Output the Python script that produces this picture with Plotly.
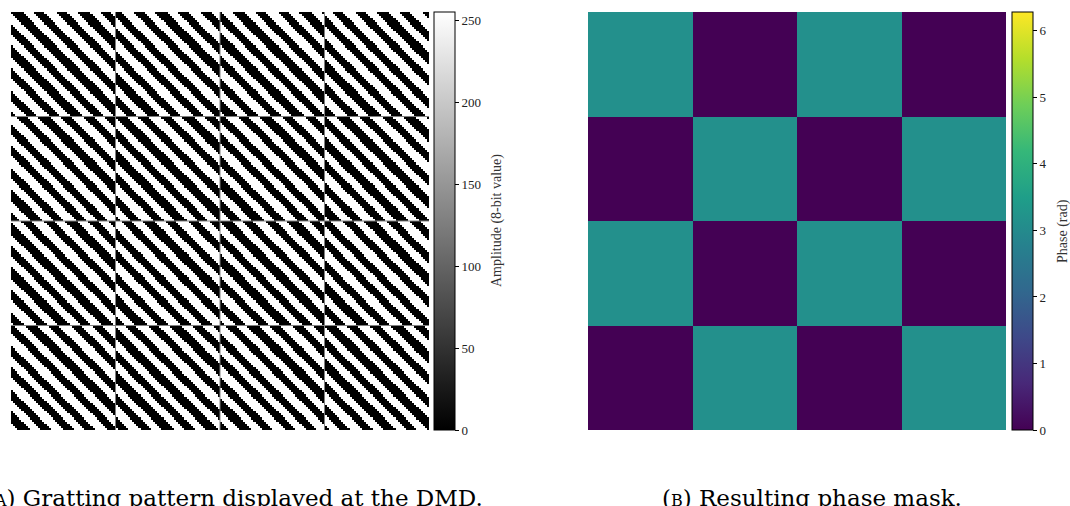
import numpy as np
import plotly.graph_objects as go

# ---- data ----
phase_mask = [
    [np.pi, 0.0, np.pi, 0.0],
    [0.0, np.pi, 0.0, np.pi],
    [np.pi, 0.0, np.pi, 0.0],
    [0.0, np.pi, 0.0, np.pi],
]
cells_per_block = 50          # DMD pixels per super-pixel
grating_period = 10.6         # grating period in DMD pixels
grating_offset = 0.5          # base phase offset (fraction of period)
amp_ticks = [0, 50, 100, 150, 200, 250]
phase_ticks = [0, 1, 2, 3, 4, 5, 6]

# ---- build grating from phase mask ----
pm = np.array(phase_mask)
nb = pm.shape[0]
N = nb * cells_per_block
rr, cc = np.mgrid[0:N, 0:N]
block_phase = pm[rr // cells_per_block, cc // cells_per_block]
frac = np.mod((cc - rr) / grating_period + block_phase / (2 * np.pi) + grating_offset, 1.0)
grating = np.where(frac < 0.5, 0, 255)

W, H = 1070, 506
def px(x):
    return x / W
def py(y):
    return 1 - y / H

font_tick = dict(family="Liberation Serif", size=13, color="#222")
font_title = dict(family="Liberation Serif", size=14, color="#333")

fig = go.Figure()
fig.add_trace(go.Heatmap(
    z=grating, xaxis="x", yaxis="y",
    colorscale=[[0, "black"], [1, "white"]], zmin=0, zmax=255,
    colorbar=dict(
        x=px(434), xanchor="left", xpad=0, y=py(221), yanchor="middle", ypad=0,
        len=418, lenmode="pixels", thickness=21, thicknessmode="pixels",
        outlinewidth=1, outlinecolor="black",
        tickvals=amp_ticks, ticks="outside", ticklen=4, tickcolor="black",
        tickfont=font_tick,
    ),
    hoverinfo="skip",
))
fig.add_trace(go.Heatmap(
    z=phase_mask, xaxis="x2", yaxis="y2",
    colorscale="Viridis", zmin=0, zmax=2 * np.pi,
    colorbar=dict(
        x=px(1012), xanchor="left", xpad=0, y=py(221), yanchor="middle", ypad=0,
        len=418, lenmode="pixels", thickness=21, thicknessmode="pixels",
        outlinewidth=1, outlinecolor="black",
        tickvals=phase_ticks, ticks="outside", ticklen=4, tickcolor="black",
        tickfont=font_tick,
    ),
    hoverinfo="skip",
))

ax = dict(visible=False, showgrid=False, zeroline=False)
fig.update_layout(
    width=W, height=H, margin=dict(l=0, r=0, t=0, b=0, autoexpand=False),
    paper_bgcolor="white", plot_bgcolor="white",
    xaxis=dict(domain=[px(11), px(429)], range=[-0.5, N - 0.5], **ax),
    yaxis=dict(domain=[py(430), py(12)], range=[N - 0.5, -0.5], **ax),
    xaxis2=dict(domain=[px(588), px(1006)], range=[-0.5, nb - 0.5], **ax),
    yaxis2=dict(domain=[py(430), py(12)], range=[nb - 0.5, -0.5], **ax),
    showlegend=False,
)

# block boundary lines in the grating
for k in range(1, nb):
    b = k * cells_per_block - 0.5
    fig.add_shape(type="line", xref="x", yref="y", x0=b, x1=b, y0=-0.5, y1=N - 0.5,
                  line=dict(color="rgb(128,128,128)", width=1), layer="above")
    fig.add_shape(type="line", xref="x", yref="y", y0=b, y1=b, x0=-0.5, x1=N - 0.5,
                  line=dict(color="rgb(128,128,128)", width=1), layer="above")

# colorbar titles
fig.add_annotation(text="Amplitude (8-bit value)", textangle=-90, xref="paper", yref="paper",
                   x=px(497), y=py(221), xanchor="center", yanchor="middle",
                   showarrow=False, font=font_title)
fig.add_annotation(text="Phase (rad)", textangle=-90, xref="paper", yref="paper",
                   x=px(1063), y=py(231), xanchor="center", yanchor="middle",
                   showarrow=False, font=font_title)

cap_font = dict(family="DejaVu Serif", size=23, color="black")
fig.add_annotation(
    text="(<span style='font-size:16px'>A</span>) Gratting pattern displayed at the DMD.",
    xref="paper", yref="paper", x=px(234), y=py(483), xanchor="center", yanchor="top",
    showarrow=False, font=cap_font,
)
fig.add_annotation(
    text="(<span style='font-size:16px'>B</span>) Resulting phase mask.",
    xref="paper", yref="paper", x=px(812), y=py(483), xanchor="center", yanchor="top",
    showarrow=False, font=cap_font,
)

fig.write_html("out.html", config={"displayModeBar": False, "staticPlot": True},
               post_script="document.body.style.margin='0px';document.body.style.overflow='hidden';")
